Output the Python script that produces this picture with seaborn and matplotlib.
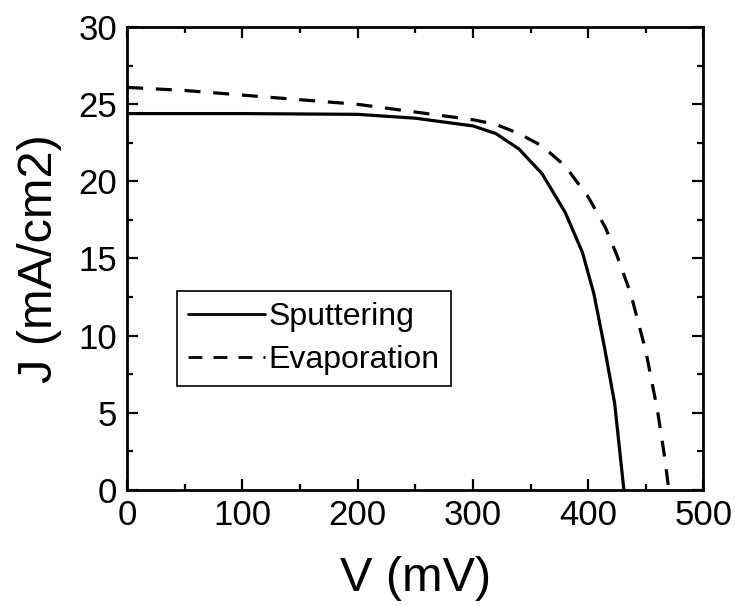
import matplotlib
matplotlib.use("Agg")
import matplotlib.pyplot as plt
import seaborn as sns
import pandas as pd
from matplotlib.ticker import MultipleLocator

# J-V curves (V in mV, J in mA/cm2)
v_sputtering = [0, 100, 200, 250, 280, 300, 320, 340, 360, 380, 395, 405, 414, 423, 431]
j_sputtering = [24.4, 24.4, 24.35, 24.1, 23.8, 23.6, 23.1, 22.1, 20.5, 18.0, 15.4, 12.7, 9.3, 5.6, 0.0]

v_evaporation = [0, 50, 100, 150, 200, 250, 300, 320, 340, 360, 380, 400, 415, 425, 437, 450, 460, 466, 470]
j_evaporation = [26.1, 25.9, 25.6, 25.3, 25.0, 24.5, 24.0, 23.7, 23.1, 22.3, 21.0, 19.0, 17.0, 15.2, 12.7, 9.0, 5.2, 2.3, 0.0]

series_names = ["Sputtering", "Evaporation"]
x_ticks = [0, 100, 200, 300, 400, 500]
y_ticks = [0, 5, 10, 15, 20, 25, 30]

df = pd.concat([
    pd.DataFrame({"V": v_sputtering, "J": j_sputtering, "Film": series_names[0]}),
    pd.DataFrame({"V": v_evaporation, "J": j_evaporation, "Film": series_names[1]}),
], ignore_index=True)

sns.set_style("ticks")
plt.rcParams["font.family"] = ["Liberation Sans", "DejaVu Sans"]

fig = plt.figure(figsize=(7.35, 6.06), dpi=100)
ax = fig.add_axes([0.173, 0.192, 0.784, 0.763])

sns.lineplot(data=df, x="V", y="J", style="Film", hue="Film",
             palette=["black", "black"], dashes={"Sputtering": "", "Evaporation": (5, 4)},
             linewidth=2.3, sort=False, estimator=None, ax=ax, legend=True)

ax.set_xlim(0, 500)
ax.set_ylim(0, 30)
ax.set_xticks(x_ticks)
ax.set_yticks(y_ticks)
ax.xaxis.set_minor_locator(MultipleLocator(50))
ax.yaxis.set_minor_locator(MultipleLocator(2.5))
ax.tick_params(which="both", direction="in", top=True, right=True, width=1.6, colors="black")
ax.tick_params(which="major", length=8, labelsize=25, pad=7)
ax.tick_params(which="minor", length=4)
for s in ax.spines.values():
    s.set_linewidth(2.0)
    s.set_color("black")

ax.set_xlabel("V (mV)", fontsize=35, labelpad=17, color="black")
ax.set_ylabel("J (mA/cm2)", fontsize=35, labelpad=12, color="black")

handles, labels = ax.get_legend_handles_labels()
leg = ax.legend(handles, labels, loc="upper left", bbox_to_anchor=(0.087, 0.43),
                fontsize=23, frameon=True, fancybox=False, framealpha=1.0,
                handlelength=2.4, handletextpad=0.1, borderpad=0.35,
                labelspacing=0.4, borderaxespad=0.0)
leg.get_frame().set_edgecolor("black")
leg.get_frame().set_linewidth(1.2)
for text in leg.get_texts():
    text.set_color("black")
for line in leg.get_lines():
    line.set_linewidth(2.0)

fig.savefig("out.png", dpi=100)
